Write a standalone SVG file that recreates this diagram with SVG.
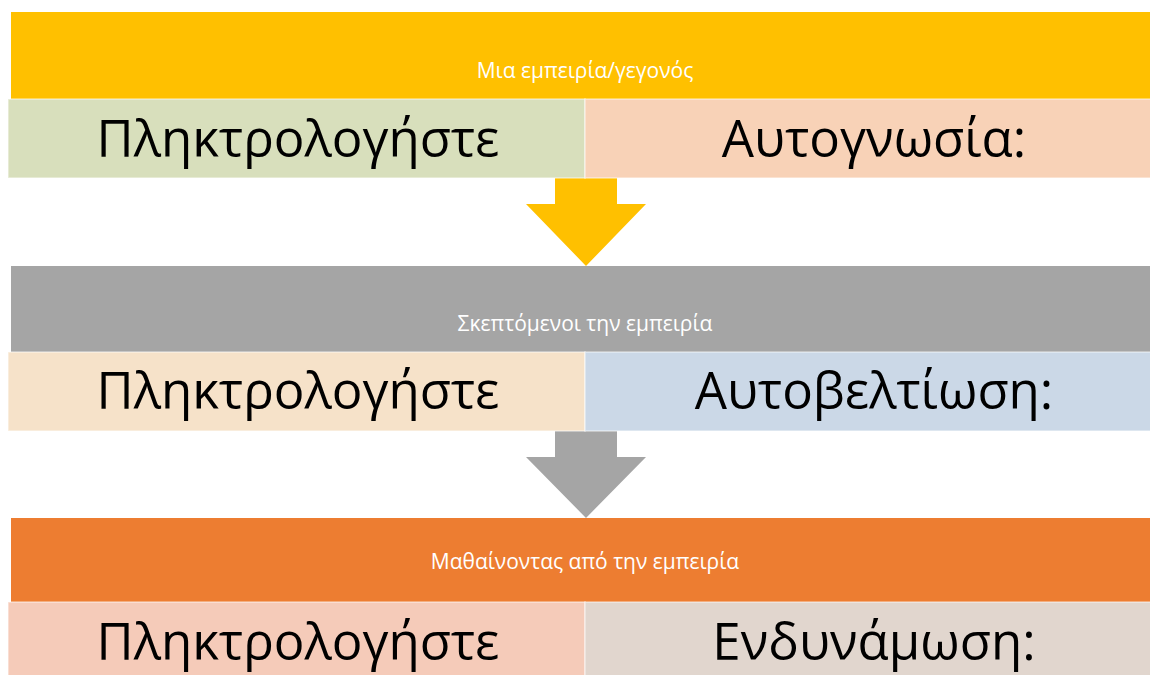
<svg xmlns="http://www.w3.org/2000/svg" width="1150" height="675" viewBox="0 0 1150 675">
<style>
.hdr{font-family:"Open Sans","Liberation Sans",sans-serif;font-size:21px;fill:#ffffff;text-anchor:middle}
.big{font-family:"Open Sans","Liberation Sans",sans-serif;font-size:51px;fill:#000000;text-anchor:middle}
.cell{stroke:#ffffff;stroke-opacity:0.5;stroke-width:1.5}
</style>
<rect width="1150" height="675" fill="#ffffff"/>
<g id="connectors">
<path d="M555 178 H617 V204 H646 L586 266 L526 204 H555 Z" fill="#FFC000"/>
<path d="M555 431 H617 V457 H646 L586 518 L526 457 H555 Z" fill="#A5A5A5"/>
</g>
<g id="band1">
<rect x="11" y="12" width="1139" height="87" fill="#FFC000"/>
<text class="hdr" x="585" y="78">Μια εμπειρία/γεγονός</text>
<rect class="cell" x="8" y="99" width="577" height="79" fill="#D8DFBC"/>
<rect class="cell" x="585" y="99" width="566" height="79" fill="#F8D2B7"/>
<text class="big" x="298" y="157">Πληκτρολογήστε</text>
<text class="big" x="874" y="157">Αυτογνωσία:</text>
</g>
<g id="band2">
<rect x="11" y="266" width="1139" height="86" fill="#A5A5A5"/>
<text class="hdr" x="585" y="331">Σκεπτόμενοι την εμπειρία</text>
<rect class="cell" x="8" y="352" width="577" height="79" fill="#F6E2C9"/>
<rect class="cell" x="585" y="352" width="566" height="79" fill="#CBD8E7"/>
<text class="big" x="298" y="409">Πληκτρολογήστε</text>
<text class="big" x="874" y="409">Αυτοβελτίωση:</text>
</g>
<g id="band3">
<rect x="11" y="518" width="1139" height="84" fill="#ED7D31"/>
<text class="hdr" x="585" y="569">Μαθαίνοντας από την εμπειρία</text>
<rect class="cell" x="8" y="602" width="577" height="80" fill="#F5CBB9"/>
<rect class="cell" x="585" y="602" width="566" height="80" fill="#E1D6CE"/>
<text class="big" x="298" y="660">Πληκτρολογήστε</text>
<text class="big" x="874" y="660">Ενδυνάμωση:</text>
</g>
</svg>
